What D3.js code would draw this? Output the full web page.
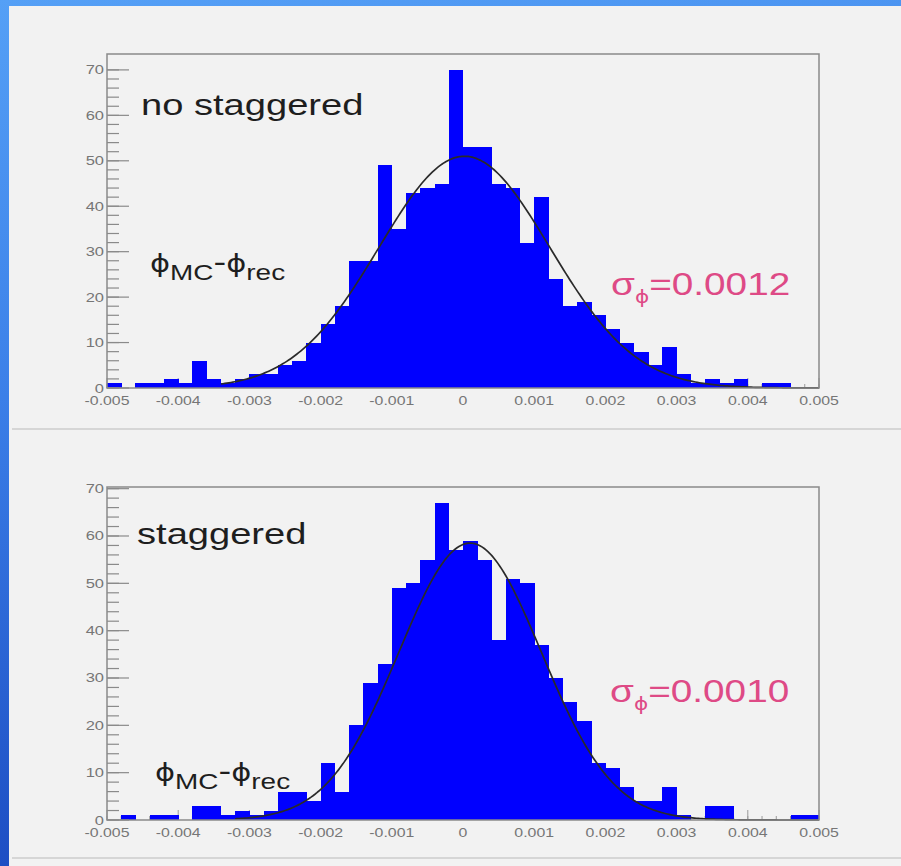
<!DOCTYPE html>
<html>
<head>
<meta charset="utf-8">
<script src="https://cdn.jsdelivr.net/npm/d3@7"></script>
<style>
  html, body { margin: 0; padding: 0; background: #2f6fe0; }
  svg { display: block; }
</style>
</head>
<body>
<svg id="chart" width="901" height="866"></svg>
<script>
// ---- data -------------------------------------------------------------
const xDomain = [-0.005, 0.005];
const binWidth = 0.0002;

// entries per bin, 50 bins from -0.005 to 0.005
const countsNoStaggered = [
  1, 0, 1, 1, 2, 1, 6, 2, 1, 2,
  3, 3, 5, 6, 10, 14, 18, 28, 28, 49,
  35, 43, 44, 45, 70, 53, 53, 45, 44, 32,
  42, 24, 18, 19, 16, 13, 10, 8, 5, 9,
  3, 1, 2, 1, 2, 0, 1, 1, 0, 0
];
const countsStaggered = [
  0, 1, 0, 1, 1, 0, 3, 3, 1, 2,
  1, 2, 6, 6, 4, 12, 6, 20, 29, 33,
  49, 50, 55, 67, 57, 59, 55, 38, 51, 50,
  37, 30, 25, 21, 12, 11, 7, 4, 4, 7,
  1, 0, 3, 3, 0, 0, 0, 0, 1, 1
];

const xTickValues = [-0.005, -0.004, -0.003, -0.002, -0.001, 0, 0.001, 0.002, 0.003, 0.004, 0.005];
const xTickLabels = ["-0.005", "-0.004", "-0.003", "-0.002", "-0.001", "0", "0.001", "0.002", "0.003", "0.004", "0.005"];
const yTickValues = [0, 10, 20, 30, 40, 50, 60, 70];

const panelTitles = ["no staggered", "staggered"];
const sigmaLabels = ["0.0012", "0.0010"];

// gaussian fit parameters
const fitAmplitude = [51, 58.5];
const fitMean = [0.00002, 0.0001];
const fitSigma = sigmaLabels.map(Number);
const fitRange = [[-0.0034, 0.005], [-0.0032, 0.005]];

// ---- layout -----------------------------------------------------------
const SX = 1.27; // horizontal stretch of all lettering
const panels = [
  { counts: countsNoStaggered, top: 54, bottom: 388,
    title: { x: 141, y: 115 }, phi: { x: 150, y: 272 }, sigma: { x: 611, y: 295 } },
  { counts: countsStaggered, top: 487, bottom: 820,
    title: { x: 137, y: 544 }, phi: { x: 155, y: 781 }, sigma: { x: 610, y: 702 } }
];
const plotLeft = 107, plotRight = 819;

const svg = d3.select("#chart");

// backdrop: blue gradient slide with a light sheet on top
const defs = svg.append("defs");
const grad = defs.append("linearGradient").attr("id", "slideBlue")
  .attr("x1", 0).attr("y1", 0).attr("x2", 0.15).attr("y2", 1);
grad.append("stop").attr("offset", "0%").attr("stop-color", "#55a0f6");
grad.append("stop").attr("offset", "45%").attr("stop-color", "#3b7fe8");
grad.append("stop").attr("offset", "100%").attr("stop-color", "#1c4cc2");
svg.append("rect").attr("width", 901).attr("height", 866).attr("fill", "url(#slideBlue)");
svg.append("rect").attr("x", 9).attr("y", 6).attr("width", 892).attr("height", 860).attr("fill", "#f2f2f2");

// separators under each plot
[429, 858].forEach(yy => {
  svg.append("line").attr("x1", 12).attr("x2", 901).attr("y1", yy).attr("y2", yy)
    .attr("stroke", "#cdcdcd").attr("stroke-width", 1.5);
});

const x = d3.scaleLinear().domain(xDomain).range([plotLeft, plotRight]);
const binStarts = panels[0].counts.map((_, i) => xDomain[0] + i * binWidth);
const minorX = d3.range(0, 51).map(i => xDomain[0] + i * binWidth);

function stretchedText(parent, px, py, anchor) {
  return parent.append("g")
    .attr("transform", `translate(${px},${py}) scale(${SX},1)`)
    .append("text")
    .attr("text-anchor", anchor || "start")
    .attr("font-family", "'Liberation Sans', Arial, sans-serif");
}

panels.forEach((p, k) => {
  const yMax = d3.max(p.counts) * 1.05;
  const y = d3.scaleLinear().domain([0, yMax]).range([p.bottom, p.top]);
  const g = svg.append("g");

  // x ticks (drawn below the bars)
  g.selectAll(".xminor").data(minorX).join("line")
    .attr("x1", d => x(d)).attr("x2", d => x(d))
    .attr("y1", p.bottom).attr("y2", p.bottom - 4)
    .attr("stroke", "#9a9a9a").attr("stroke-width", 1);
  g.selectAll(".xmajor").data(xTickValues).join("line")
    .attr("x1", d => x(d)).attr("x2", d => x(d))
    .attr("y1", p.bottom).attr("y2", p.bottom - 10)
    .attr("stroke", "#9a9a9a").attr("stroke-width", 1);

  // histogram bars
  g.append("g").attr("shape-rendering", "crispEdges")
    .selectAll("rect").data(p.counts).join("rect")
    .attr("x", (d, i) => x(binStarts[i]))
    .attr("width", (d, i) => x(binStarts[i] + binWidth) - x(binStarts[i]) + 0.4)
    .attr("y", d => y(d))
    .attr("height", d => p.bottom - y(d))
    .attr("fill", "#0000ff");

  // gaussian fit
  const gx = d3.range(0, 301).map(i => fitRange[k][0] + (fitRange[k][1] - fitRange[k][0]) * i / 300);
  const gauss = v => fitAmplitude[k] * Math.exp(-0.5 * Math.pow((v - fitMean[k]) / fitSigma[k], 2));
  g.append("path")
    .attr("d", d3.line().x(v => x(v)).y(v => y(gauss(v)))(gx))
    .attr("fill", "none").attr("stroke", "#2a2a2a").attr("stroke-width", 1.7);

  // frame
  g.append("rect").attr("x", plotLeft).attr("y", p.top)
    .attr("width", plotRight - plotLeft).attr("height", p.bottom - p.top)
    .attr("fill", "none").attr("stroke", "#8a8a8a").attr("stroke-width", 1.5);

  // y ticks: major every 10, minor every 2
  const yMinor = d3.range(0, 72, 2);
  g.selectAll(".yminor").data(yMinor).join("line")
    .attr("x1", plotLeft).attr("x2", plotLeft + 12)
    .attr("y1", d => y(d)).attr("y2", d => y(d))
    .attr("stroke", "#8a8a8a").attr("stroke-width", 1.2);
  g.selectAll(".ymajor").data(yTickValues).join("line")
    .attr("x1", plotLeft).attr("x2", plotLeft + 22)
    .attr("y1", d => y(d)).attr("y2", d => y(d))
    .attr("stroke", "#8a8a8a").attr("stroke-width", 1.2);

  // y labels
  yTickValues.forEach(v => {
    stretchedText(g, plotLeft - 3, y(v) + 4.5, "end")
      .attr("font-size", 13).attr("fill", "#767676").text(v);
  });
  // x labels
  xTickValues.forEach((v, i) => {
    stretchedText(g, x(v), p.bottom + 17, "middle")
      .attr("font-size", 12.5).attr("fill", "#767676").text(xTickLabels[i]);
  });

  // title
  stretchedText(g, p.title.x, p.title.y)
    .attr("font-size", 30).attr("fill", "#1e1e1e").text(panelTitles[k]);

  // observable  phi_MC - phi_rec
  const ph = stretchedText(g, p.phi.x, p.phi.y).attr("font-size", 30).attr("fill", "#1e1e1e");
  ph.append("tspan").attr("font-family", "'DejaVu Sans', sans-serif").attr("font-size", 24).text("ϕ");
  ph.append("tspan").attr("font-size", 22).attr("dy", 8).text("MC");
  ph.append("tspan").attr("dy", -8).text("-");
  ph.append("tspan").attr("font-family", "'DejaVu Sans', sans-serif").attr("font-size", 24).text("ϕ");
  ph.append("tspan").attr("font-size", 22).attr("dy", 8).text("rec");

  // resolution label
  const sg = stretchedText(g, p.sigma.x, p.sigma.y).attr("font-size", 30.5).attr("fill", "#de4a86");
  sg.append("tspan").text("σ");
  sg.append("tspan").attr("font-size", 17).attr("dy", 8)
    .attr("font-family", "'DejaVu Sans', sans-serif").text("ϕ");
  sg.append("tspan").attr("dy", -8).text("=" + sigmaLabels[k]);
});
</script>
</body>
</html>
